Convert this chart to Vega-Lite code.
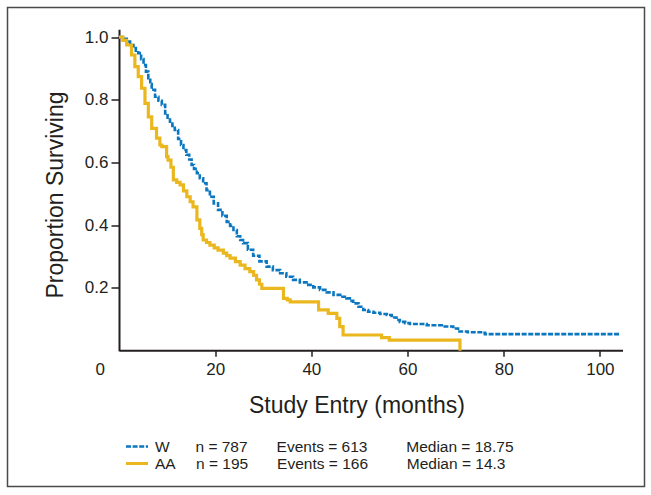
{
  "$schema": "https://vega.github.io/schema/vega-lite/v6.json",
  "width": 637,
  "height": 479,
  "autosize": {"type": "none"},
  "padding": {"left": 7.5, "top": 7.5, "right": 6.5, "bottom": 8.5},
  "background": "white",
  "config": {
    "view": {"stroke": "#4a4a4a", "strokeWidth": 1.5},
    "font": "Liberation Sans"
  },
  "data": {
    "values": [
      {"race": "W", "month": 0, "surv": 1.0},
      {"race": "W", "month": 0.8, "surv": 0.995},
      {"race": "W", "month": 1.6, "surv": 0.986},
      {"race": "W", "month": 2.3, "surv": 0.975},
      {"race": "W", "month": 3.0, "surv": 0.965},
      {"race": "W", "month": 3.5, "surv": 0.957},
      {"race": "W", "month": 4.0, "surv": 0.949},
      {"race": "W", "month": 4.6, "surv": 0.93},
      {"race": "W", "month": 5.1, "surv": 0.911},
      {"race": "W", "month": 5.6, "surv": 0.89},
      {"race": "W", "month": 6.1, "surv": 0.869},
      {"race": "W", "month": 6.5, "surv": 0.85},
      {"race": "W", "month": 6.8, "surv": 0.832},
      {"race": "W", "month": 7.5, "surv": 0.81},
      {"race": "W", "month": 8.2, "surv": 0.797},
      {"race": "W", "month": 8.9, "surv": 0.784},
      {"race": "W", "month": 9.6, "surv": 0.757},
      {"race": "W", "month": 10.1, "surv": 0.743},
      {"race": "W", "month": 10.6, "surv": 0.73},
      {"race": "W", "month": 11.1, "surv": 0.717},
      {"race": "W", "month": 11.6, "surv": 0.704},
      {"race": "W", "month": 12.3, "surv": 0.675},
      {"race": "W", "month": 12.9, "surv": 0.656},
      {"race": "W", "month": 13.4, "surv": 0.64},
      {"race": "W", "month": 14.0, "surv": 0.625},
      {"race": "W", "month": 14.6, "surv": 0.61},
      {"race": "W", "month": 15.1, "surv": 0.592},
      {"race": "W", "month": 15.6, "surv": 0.58},
      {"race": "W", "month": 16.2, "surv": 0.566},
      {"race": "W", "month": 16.8, "surv": 0.55},
      {"race": "W", "month": 17.5, "surv": 0.534},
      {"race": "W", "month": 18.2, "surv": 0.512},
      {"race": "W", "month": 18.9, "surv": 0.491},
      {"race": "W", "month": 19.7, "surv": 0.47},
      {"race": "W", "month": 20.6, "surv": 0.449},
      {"race": "W", "month": 21.5, "surv": 0.43},
      {"race": "W", "month": 22.4, "surv": 0.411},
      {"race": "W", "month": 23.1, "surv": 0.398},
      {"race": "W", "month": 23.8, "surv": 0.385},
      {"race": "W", "month": 24.5, "surv": 0.365},
      {"race": "W", "month": 25.2, "surv": 0.353},
      {"race": "W", "month": 25.8, "surv": 0.343},
      {"race": "W", "month": 26.8, "surv": 0.322},
      {"race": "W", "month": 27.9, "surv": 0.303},
      {"race": "W", "month": 29.2, "surv": 0.285},
      {"race": "W", "month": 30.7, "surv": 0.268},
      {"race": "W", "month": 32.0, "surv": 0.257},
      {"race": "W", "month": 33.5, "surv": 0.247},
      {"race": "W", "month": 34.8, "surv": 0.236},
      {"race": "W", "month": 36.2, "surv": 0.226},
      {"race": "W", "month": 37.6, "surv": 0.218},
      {"race": "W", "month": 39.0, "surv": 0.21},
      {"race": "W", "month": 40.4, "surv": 0.202},
      {"race": "W", "month": 41.8, "surv": 0.194},
      {"race": "W", "month": 43.2, "surv": 0.186},
      {"race": "W", "month": 44.6, "surv": 0.178},
      {"race": "W", "month": 46.0, "surv": 0.172},
      {"race": "W", "month": 47.3, "surv": 0.167},
      {"race": "W", "month": 48.0, "surv": 0.159},
      {"race": "W", "month": 48.7, "surv": 0.151},
      {"race": "W", "month": 49.8, "surv": 0.14},
      {"race": "W", "month": 50.8, "surv": 0.13},
      {"race": "W", "month": 51.8, "surv": 0.124},
      {"race": "W", "month": 52.9, "surv": 0.121},
      {"race": "W", "month": 54.3, "surv": 0.117},
      {"race": "W", "month": 55.7, "surv": 0.114},
      {"race": "W", "month": 56.7, "surv": 0.106},
      {"race": "W", "month": 57.7, "surv": 0.098},
      {"race": "W", "month": 58.4, "surv": 0.092},
      {"race": "W", "month": 59.5, "surv": 0.088},
      {"race": "W", "month": 60.5, "surv": 0.085},
      {"race": "W", "month": 64.0, "surv": 0.081},
      {"race": "W", "month": 67.4, "surv": 0.077},
      {"race": "W", "month": 69.5, "surv": 0.071},
      {"race": "W", "month": 70.5, "surv": 0.061},
      {"race": "W", "month": 72.5, "surv": 0.059},
      {"race": "W", "month": 75.7, "surv": 0.057},
      {"race": "W", "month": 76.1, "surv": 0.053},
      {"race": "W", "month": 104.2, "surv": 0.053},
      {"race": "AA", "month": 0, "surv": 1.0},
      {"race": "AA", "month": 0.8, "surv": 0.99},
      {"race": "AA", "month": 1.6, "surv": 0.975},
      {"race": "AA", "month": 2.6, "surv": 0.943},
      {"race": "AA", "month": 3.3, "surv": 0.906},
      {"race": "AA", "month": 4.0, "surv": 0.874},
      {"race": "AA", "month": 4.7, "surv": 0.837},
      {"race": "AA", "month": 5.4, "surv": 0.789},
      {"race": "AA", "month": 6.1, "surv": 0.746},
      {"race": "AA", "month": 6.8, "surv": 0.709},
      {"race": "AA", "month": 7.8, "surv": 0.678},
      {"race": "AA", "month": 8.5, "surv": 0.656},
      {"race": "AA", "month": 8.9, "surv": 0.651},
      {"race": "AA", "month": 9.9, "surv": 0.619},
      {"race": "AA", "month": 10.2, "surv": 0.608},
      {"race": "AA", "month": 10.8, "surv": 0.585},
      {"race": "AA", "month": 11.3, "surv": 0.545},
      {"race": "AA", "month": 12.0, "surv": 0.537},
      {"race": "AA", "month": 12.7, "surv": 0.529},
      {"race": "AA", "month": 13.4, "surv": 0.51},
      {"race": "AA", "month": 14.1, "surv": 0.491},
      {"race": "AA", "month": 14.8, "surv": 0.475},
      {"race": "AA", "month": 15.4, "surv": 0.459},
      {"race": "AA", "month": 16.2, "surv": 0.417},
      {"race": "AA", "month": 16.8, "surv": 0.39},
      {"race": "AA", "month": 17.2, "surv": 0.37},
      {"race": "AA", "month": 17.5, "surv": 0.353},
      {"race": "AA", "month": 18.2, "surv": 0.345},
      {"race": "AA", "month": 18.9, "surv": 0.337},
      {"race": "AA", "month": 19.8, "surv": 0.328},
      {"race": "AA", "month": 20.6, "surv": 0.321},
      {"race": "AA", "month": 21.7, "surv": 0.311},
      {"race": "AA", "month": 22.4, "surv": 0.303},
      {"race": "AA", "month": 23.1, "surv": 0.295},
      {"race": "AA", "month": 24.2, "surv": 0.284},
      {"race": "AA", "month": 25.2, "surv": 0.273},
      {"race": "AA", "month": 26.2, "surv": 0.262},
      {"race": "AA", "month": 27.2, "surv": 0.252},
      {"race": "AA", "month": 28.0, "surv": 0.24},
      {"race": "AA", "month": 28.6, "surv": 0.226},
      {"race": "AA", "month": 29.2, "surv": 0.212},
      {"race": "AA", "month": 29.7, "surv": 0.199},
      {"race": "AA", "month": 34.2, "surv": 0.167},
      {"race": "AA", "month": 35.0, "surv": 0.162},
      {"race": "AA", "month": 35.6, "surv": 0.156},
      {"race": "AA", "month": 41.5, "surv": 0.13},
      {"race": "AA", "month": 43.5, "surv": 0.119},
      {"race": "AA", "month": 45.3, "surv": 0.103},
      {"race": "AA", "month": 45.9, "surv": 0.077},
      {"race": "AA", "month": 46.6, "surv": 0.05},
      {"race": "AA", "month": 54.6, "surv": 0.042},
      {"race": "AA", "month": 56.2, "surv": 0.034},
      {"race": "AA", "month": 70.9, "surv": 0.0}
    ]
  },
  "mark": {"type": "line", "interpolate": "step-after", "strokeCap": "butt", "strokeJoin": "miter"},
  "encoding": {
    "x": {
      "field": "month",
      "type": "quantitative",
      "scale": {"domain": [0, 104.7], "range": [111.5, 615], "nice": false, "zero": false},
      "axis": {
        "offset": -136.3,
        "values": [0, 20, 40, 60, 80, 100],
        "format": "d",
        "grid": false,
        "domainColor": "#231f20",
        "domainWidth": 2,
        "tickColor": "#231f20",
        "tickWidth": 1.5,
        "tickSize": 6,
        "tickOpacity": {"condition": {"test": "datum.value === 0", "value": 0}, "value": 1},
        "labelOffset": {"condition": {"test": "datum.value === 0", "value": -24}, "value": 0},
        "labelFont": "Liberation Sans",
        "labelFontSize": 17,
        "labelColor": "#231f20",
        "labelPadding": 5,
        "title": "Study Entry (months)",
        "titleFont": "Liberation Sans",
        "titleFontSize": 23,
        "titleFontWeight": "normal",
        "titleColor": "#231f20",
        "titlePadding": 17,
        "titleX": 349
      }
    },
    "y": {
      "field": "surv",
      "type": "quantitative",
      "scale": {"domain": [0, 1.025], "range": [343.2, 21.8], "nice": false},
      "axis": {
        "offset": -111.5,
        "values": [0.2, 0.4, 0.6, 0.8, 1.0],
        "format": ".1f",
        "grid": false,
        "domainColor": "#231f20",
        "domainWidth": 2,
        "tickColor": "#231f20",
        "tickWidth": 1.5,
        "tickSize": 8,
        "labelFont": "Liberation Sans",
        "labelFontSize": 17,
        "labelColor": "#231f20",
        "labelPadding": 3,
        "title": "Proportion Surviving",
        "titleFont": "Liberation Sans",
        "titleFontSize": 23,
        "titleFontWeight": "normal",
        "titleColor": "#231f20",
        "titlePadding": 17,
        "titleY": 187
      }
    },
    "color": {
      "field": "race",
      "type": "nominal",
      "scale": {"domain": ["W", "AA"], "range": ["#0b77c0", "#ebb71f"]},
      "legend": {
        "title": null,
        "orient": "none",
        "legendX": 116.5,
        "legendY": 431,
        "symbolType": "stroke",
        "symbolSize": 484,
        "symbolStrokeWidth": 4,
        "labelFont": "Liberation Sans",
        "labelFontSize": 15.5,
        "labelColor": "#231f20",
        "labelOffset": 5,
        "labelLimit": 0,
        "clipHeight": 16,
        "rowPadding": 0,
        "labelExpr": "datum.label == 'W' ? 'W\u00a0\u00a0\u00a0\u00a0\u00a0\u00a0n = 787\u00a0\u00a0\u00a0\u00a0\u00a0\u00a0\u2009Events = 613\u00a0\u00a0\u00a0\u00a0\u00a0\u00a0\u00a0\u00a0\u00a0Median = 18.75' : 'AA\u00a0\u00a0\u00a0\u00a0\u2009n = 195\u00a0\u00a0\u00a0\u00a0\u00a0\u00a0\u2009Events = 166\u00a0\u00a0\u00a0\u00a0\u00a0\u00a0\u00a0\u00a0\u00a0Median = 14.3'"
      }
    },
    "strokeDash": {
      "field": "race",
      "type": "nominal",
      "scale": {"domain": ["W", "AA"], "range": [[5, 1.6], [1, 0]]},
      "legend": {
        "title": null,
        "orient": "none",
        "legendX": 116.5,
        "legendY": 431,
        "symbolType": "stroke",
        "symbolSize": 484,
        "symbolStrokeWidth": 4,
        "labelFont": "Liberation Sans",
        "labelFontSize": 15.5,
        "labelColor": "#231f20",
        "labelOffset": 5,
        "labelLimit": 0,
        "clipHeight": 16,
        "rowPadding": 0,
        "labelExpr": "datum.label == 'W' ? 'W\u00a0\u00a0\u00a0\u00a0\u00a0\u00a0n = 787\u00a0\u00a0\u00a0\u00a0\u00a0\u00a0\u2009Events = 613\u00a0\u00a0\u00a0\u00a0\u00a0\u00a0\u00a0\u00a0\u00a0Median = 18.75' : 'AA\u00a0\u00a0\u00a0\u00a0\u2009n = 195\u00a0\u00a0\u00a0\u00a0\u00a0\u00a0\u2009Events = 166\u00a0\u00a0\u00a0\u00a0\u00a0\u00a0\u00a0\u00a0\u00a0Median = 14.3'"
      }
    },
    "strokeWidth": {
      "field": "race",
      "type": "nominal",
      "scale": {"domain": ["W", "AA"], "range": [2.6, 3.2]},
      "legend": null
    }
  }
}
